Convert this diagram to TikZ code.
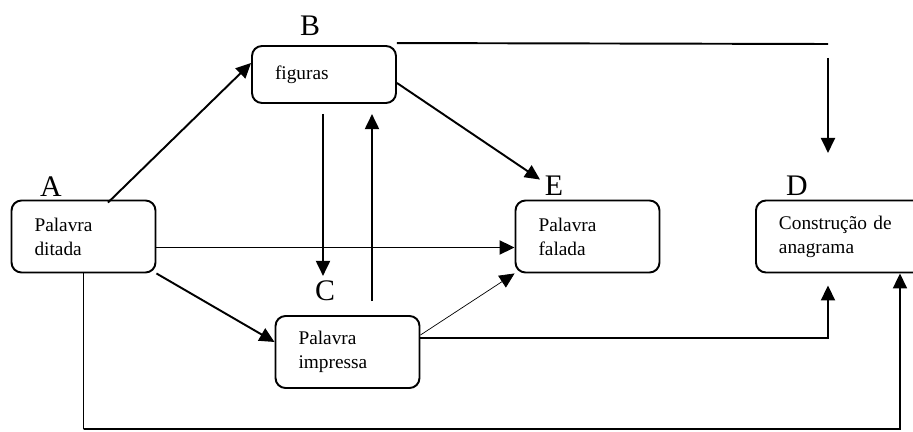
\documentclass[tikz,border=0pt]{standalone}
\usepackage{fontspec}
\setmainfont{Liberation Serif}
\usetikzlibrary{arrows.meta}
\tikzset{>={Triangle[length=0.3cm,width=0.28cm]}}
\tikzset{
  caixa/.style={draw, rounded corners=0.2cm, line width=1.1pt, align=left,
    inner xsep=0.46cm, inner ysep=0pt, text width=1.96cm, minimum height=1.44cm,
    font=\fontsize{11}{13.6}\selectfont},
  rotulo/.style={inner sep=0pt, font=\fontsize{17}{17}\selectfont},
  seta/.style={->, line width=1.1pt},
  fina/.style={->, line width=0.4pt}
}

\begin{document}
\begin{tikzpicture}[x=0.02cm, y=-0.02cm]
  \useasboundingbox (0,0) rectangle (913,432);
  \clip (0,0) rectangle (913,432);

  \node[caixa] (ditada) at (83.5,236.5) {Palavra\\ditada};
  \node[caixa, minimum height=1.14cm] (figuras) at (324,74.5) {figuras};
  \node[caixa] (impressa) at (347.5,352) {Palavra\\impressa};
  \node[caixa] (falada) at (587.5,236.5) {Palavra\\falada};
  \node[caixa, anchor=west, text width=2.6cm] (construcao) at (755,236.5) {Constru\c{c}\~ao de\\anagrama};

  \node[rotulo] (rotA) at (51,187) {A};
  \node[rotulo] (rotB) at (310,26) {B};
  \node[rotulo] (rotC) at (325,291) {C};
  \node[rotulo] (rotE) at (554,186) {E};
  \node[rotulo] (rotD) at (797,186) {D};

  \coordinate (cantoA) at (83.5,429);
  \coordinate (cantoD) at (900,429);
  \coordinate (topoD) at (828,44);

  \draw[seta] ([xshift=0.49cm,yshift=-0.06cm]ditada.north) -- ([yshift=0.23cm]figuras.west);
  \draw[seta] ([yshift=-0.22cm]ditada.east) -- ([yshift=-0.22cm]falada.west);
  \draw[seta] (ditada.south east) -- ([yshift=0.2cm]impressa.west);
  \draw[line width=0.6pt] (ditada.south) -- (cantoA);
  \draw[seta] (cantoA) -- (cantoD) -- ([xshift=2.9cm]construcao.south west);

  \draw[seta] ([xshift=-0.02cm,yshift=-0.2cm]figuras.south) -- ++(0,-3.24cm);
  \draw[seta] ([xshift=0.49cm,yshift=0.28cm]impressa.north) -- ++(0,3.74cm);
  \draw[seta] ([yshift=-0.17cm]figuras.east) -- ([xshift=-0.95cm,yshift=0.4cm]falada.north);
  \draw[fina] ([yshift=0.34cm]impressa.east) -- (falada.south west);
  \draw[seta] ([yshift=0.28cm]impressa.east) -| ([xshift=1.46cm,yshift=-0.24cm]construcao.south west);

  \draw[line width=1.1pt] ([yshift=0.04cm]figuras.north east) -- (topoD);
  \draw[seta] ([yshift=-0.28cm]topoD) -- ++(0,-1.9cm);
\end{tikzpicture}
\end{document}
